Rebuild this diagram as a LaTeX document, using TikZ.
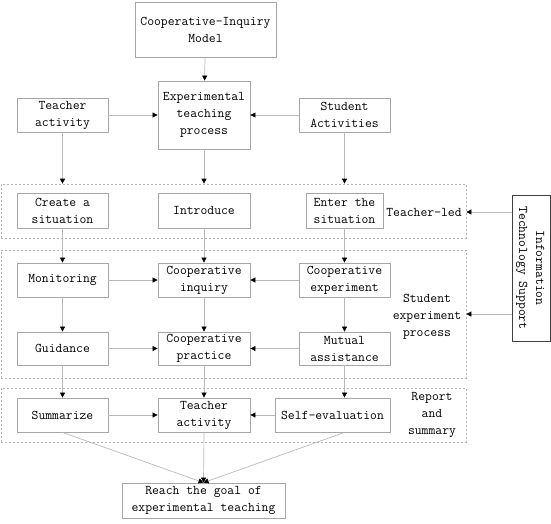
\documentclass[tikz,border=0pt]{standalone}
\usepackage{graphicx}
\usetikzlibrary{arrows.meta, positioning, calc}

\begin{document}
\begin{tikzpicture}[
    x=1pt, y=-1pt,
    font=\fontsize{13.3}{17}\selectfont\ttfamily,
    box/.style={rectangle, draw=gray!70, line width=0.8pt, align=center, inner sep=1pt},
    stage/.style={rectangle, draw=gray!60, line width=0.7pt, dash pattern=on 2pt off 2pt, minimum width=465, inner sep=0pt},
    stagetxt/.style={align=center, inner sep=0pt},
    arrow/.style={-{Triangle[length=5pt, width=5pt, color=black]}, line width=0.7pt, gray!55}
]
\useasboundingbox (0,0) rectangle (551,523);

% Top part
\node[box, minimum width=141, minimum height=55] (model) at (205.5,29.5) {Cooperative-Inquiry\\Model};
\node[box, minimum width=92, minimum height=68] (etp) at (204,115) {Experimental\\teaching\\process};
\node[box, minimum width=91, minimum height=34] (tact) at (62.5,115) {Teacher\\activity};
\node[box, minimum width=91, minimum height=34] (sact) at (344.5,115) {Student\\Activities};

% Stages
\node[stage, minimum height=54] (led) at (233.5,211) {};
\node[stage, minimum height=128] (exper) at (233.5,314) {};
\node[stage, minimum height=54] (report) at (233.5,415) {};
\node[stagetxt] (ledtxt) at (424,212) {Teacher-led};
\node[stagetxt] (expertxt) at (427,317) {Student\\experiment\\process};
\node[stagetxt] (reporttxt) at (432,415) {Report\\and\\summary};

% Teacher-led row
\node[box, minimum width=91, minimum height=35] (create) at (62.5,210.5) {Create a\\situation};
\node[box, minimum width=92, minimum height=35] (intro) at (204,210.5) {Introduce};
\node[box, minimum width=77, minimum height=35] (enter) at (344.5,210.5) {Enter the\\situation};

% Student experiment rows
\node[box, minimum width=91, minimum height=34] (monit) at (62.5,280) {Monitoring};
\node[box, minimum width=92, minimum height=34] (cinq) at (204,280) {Cooperative\\inquiry};
\node[box, minimum width=91, minimum height=34] (cexp) at (344.5,280) {Cooperative\\experiment};
\node[box, minimum width=91, minimum height=33] (guide) at (62.5,348.5) {Guidance};
\node[box, minimum width=92, minimum height=33] (cprac) at (204,348.5) {Cooperative\\practice};
\node[box, minimum width=91, minimum height=33] (mutual) at (344.5,348.5) {Mutual\\assistance};

% Report row
\node[box, minimum width=91, minimum height=34] (summ) at (62.5,415) {Summarize};
\node[box, minimum width=92, minimum height=34] (tact2) at (204,415) {Teacher\\activity};
\node[box, minimum width=115, minimum height=34] (selfev) at (332.5,415) {Self-evaluation};

\node[box, minimum width=163, minimum height=35] (goal) at (203.5,500.5) {Reach the goal of\\experimental teaching};

% IT support
\node[box, draw=black!75, minimum width=38, minimum height=146] (itbox) at (531,268)
    {\rotatebox[origin=c]{-90}{\begin{tabular}{@{}c@{}}Information\\Technology Support\end{tabular}}};

% Arrows
\draw[arrow] (model) -- (etp);
\draw[arrow] (tact) -- (etp.west |- tact);
\draw[arrow] (sact) -- (etp.east |- sact);
\draw[arrow] (tact) -- (tact |- led.north);
\draw[arrow] (etp) -- (etp |- led.north);
\draw[arrow] (sact) -- (sact |- led.north);
\draw[arrow] (create) -- (monit);
\draw[arrow] (intro) -- (cinq);
\draw[arrow] (enter) -- (cexp);
\draw[arrow] (monit) -- (cinq);
\draw[arrow] (cexp) -- (cinq);
\draw[arrow] (monit) -- (guide);
\draw[arrow] (cinq) -- (cprac);
\draw[arrow] (cexp) -- (mutual);
\draw[arrow] (guide) -- (cprac);
\draw[arrow] (mutual) -- (cprac);
\draw[arrow] (guide) -- (summ);
\draw[arrow] (cprac) -- (tact2);
\draw[arrow] (mutual) -- (mutual |- selfev.north);
\draw[arrow] (summ) -- (tact2);
\draw[arrow] (selfev) -- (tact2);
\draw[arrow] (summ.south) -- (goal.north);
\draw[arrow] (tact2.south) -- (goal.north);
\draw[arrow] (selfev.south -| mutual) -- (goal.north);
\draw[arrow] (itbox.west |- ledtxt) -- (led.east |- ledtxt);
\draw[arrow] (itbox.west |- 0,314) -- (exper.east |- 0,314);
\end{tikzpicture}
\end{document}
